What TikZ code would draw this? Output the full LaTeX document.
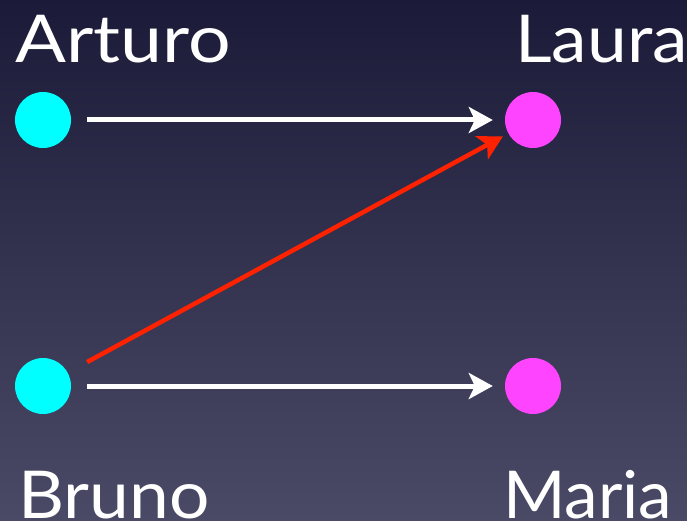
\documentclass[tikz,border=0pt]{standalone}
\usepackage{fontspec}
\setmainfont{Lato}
\newfontfamily\latoW[FakeStretch=1.14]{Lato}
\newfontfamily\latoM[FakeStretch=1.08]{Lato}
\newfontfamily\latoN[FakeStretch=1.02]{Lato}
\usetikzlibrary{arrows.meta}
\definecolor{bgtop}{HTML}{1B1A38}
\definecolor{bgbot}{HTML}{4B4A66}
\definecolor{dotA}{HTML}{00FFFF}
\definecolor{dotB}{HTML}{FF44FF}
\definecolor{redline}{HTML}{FF2200}
\tikzset{
  person/.style={circle, inner sep=0pt, minimum size=56pt},
  nameA/.style={anchor=base west, inner sep=0pt, text=white, font=\fontsize{66}{66}\selectfont},
  link/.style={line width=5pt, -{Stealth[length=24pt, width=26pt, inset=6pt]}, shorten <=16pt, shorten >=12pt},
}
\begin{document}
\begin{tikzpicture}[x=1pt, y=-1pt]
  \useasboundingbox (0,0) rectangle (687,521);
  \shade[top color=bgtop, bottom color=bgbot] (0,0) rectangle (687,521);
  % people
  \node[person, fill=dotA] (arturo) at (43,120) {};
  \node[person, fill=dotA] (bruno) at (43,386) {};
  \node[person, fill=dotB] (laura) at (533,120) {};
  \node[person, fill=dotB] (maria) at (533,386) {};
  % names
  \node[nameA] (tA) at (15,63) {\latoW Arturo};
  \node[nameA] (tL) at (515,63) {\latoM Laura};
  \node[nameA] (tB) at (18,518) {\latoM Bruno};
  \node[nameA] (tM) at (503,518) {\latoN Maria};
  % connections
  \draw[link, white] (arturo) -- (laura);
  \draw[link, white] (bruno) -- (maria);
  \draw[link, redline, line width=4.5pt, shorten <=22pt, shorten >=6pt] (bruno) -- (laura);
\end{tikzpicture}
\end{document}
